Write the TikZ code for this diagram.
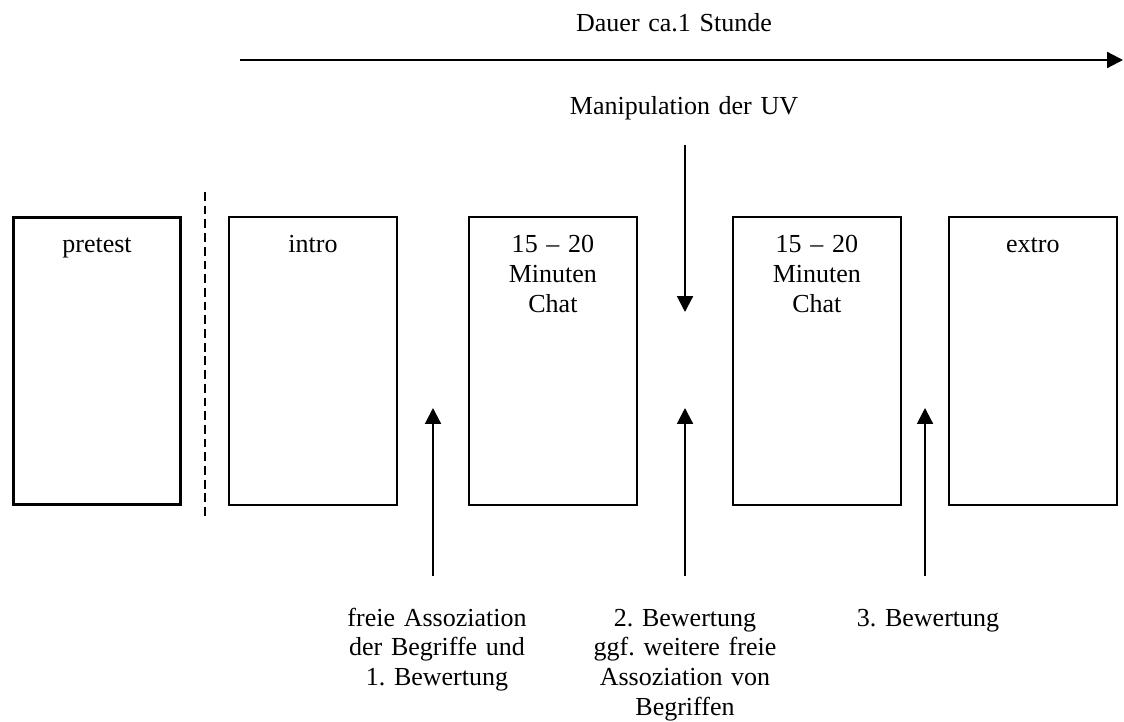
\documentclass[tikz,border=0pt]{standalone}
\usepackage{fontspec}
\setmainfont{Liberation Serif}
\usepackage{tikz}
\usetikzlibrary{arrows.meta}
\frenchspacing

\begin{document}
\begin{tikzpicture}[x=0.02cm, y=-0.02cm,
	every node/.style={align=center, inner sep=0pt, font=\fontsize{14.8}{17.07}\selectfont},
	box/.style={draw, line width=0.9pt, text width=3.36cm, text height=0.7cm, text depth=5.06cm},
	note/.style={anchor=base, text width=5cm},
	arr/.style={line width=1.2pt, -{Triangle[length=9pt,width=9pt]}}]
			\useasboundingbox (0,0) rectangle (1124,722);
			
			\node[box, line width=1.7pt] at (97,361) (p) {pretest};
			\node[box, right of=p, node distance=4.32cm] (i) {intro};
			\node[box, right of=i, node distance=4.8cm] (c1) {15 – 20\\Minuten\\Chat};
			\node[box, right of=c1, node distance=5.28cm] (c2) {15 – 20\\Minuten\\Chat};
			\node[box, right of=c2, node distance=4.32cm] (e) {extro};
			
			\node[note] at (674,32) (dauer) {Dauer ca.1 Stunde};
			\node[note] at (684,115) (uv) {Manipulation der UV};
			\node[note] at (437,626) (b1) {freie Assoziation\\der Begriffe und\\1. Bewertung};
			\node[note] at (685,626) (b2) {2. Bewertung\\ggf. weitere freie\\Assoziation von\\Begriffen};
			\node[note] at (928,626) (b3) {3. Bewertung};
			
			\coordinate (t0) at (240,60);
			\coordinate (t1) at (1123,60);
			\coordinate (m0) at (685,145);
			\coordinate (m1) at (685,312);
			\coordinate (d0) at (205,192);
			\coordinate (d1) at (205,520);
			\coordinate (f1) at (433,576);
			\coordinate (h1) at (433,408);
			\coordinate (f2) at (685,576);
			\coordinate (h2) at (685,408);
			\coordinate (f3) at (925,576);
			\coordinate (h3) at (925,408);
			
			\draw[arr] (t0) -- (t1);
			\draw[arr] (m0) -- (m1);
			\draw[line width=1.5pt, dash pattern=on 5pt off 2.8pt] (d0) -- (d1);
			\draw[arr] (f1) -- (h1);
			\draw[arr] (f2) -- (h2);
			\draw[arr] (f3) -- (h3);
		\end{tikzpicture}
\end{document}
